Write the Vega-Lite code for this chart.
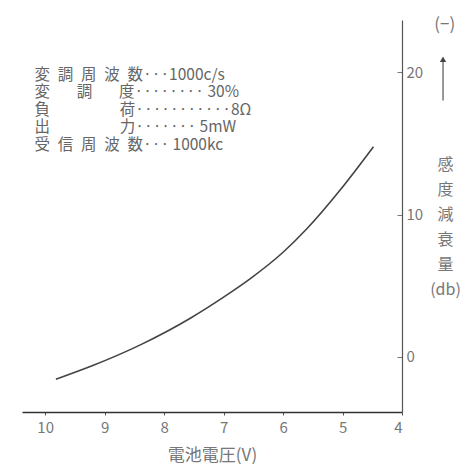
{
  "$schema": "https://vega.github.io/schema/vega-lite/v6.json",
  "width": 380,
  "height": 392,
  "autosize": {"type": "none"},
  "padding": {"left": 22, "top": 20, "right": 69, "bottom": 64},
  "background": "white",
  "config": {
    "view": {"stroke": null},
    "font": "Noto Sans CJK JP",
    "axis": {"grid": false, "labelFont": "Noto Sans CJK JP", "titleFont": "Noto Sans CJK JP"}
  },
  "datasets": {
    "curve": [
      {"voltage": 9.82, "loss": -1.56},
      {"voltage": 9.2, "loss": -0.6},
      {"voltage": 8.4, "loss": 0.85},
      {"voltage": 7.56, "loss": 2.72},
      {"voltage": 7.0, "loss": 4.2},
      {"voltage": 6.55, "loss": 5.5},
      {"voltage": 6.0, "loss": 7.35},
      {"voltage": 5.6, "loss": 9.0},
      {"voltage": 5.04, "loss": 11.72},
      {"voltage": 4.48, "loss": 14.76}
    ],
    "notes": [
      {"note": [
        "変\u2002調\u2002周\u2002波\u2002数···1000c/s",
        "変\u2002\u2002\u2002 調\u2002\u2002\u2002 度········ 30%",
        "負\u2002\u2002\u2002\u2002\u2002\u2002\u2002\u2002\u2002荷···········8Ω",
        "出\u2002\u2002\u2002\u2002\u2002\u2002\u2002\u2002\u2002力······· 5mW",
        "受\u2002信\u2002周\u2002波\u2002数··· 1000kc"
      ]}
    ],
    "sign": [{"label": "(−)"}]
  },
  "layer": [
    {
      "data": {"name": "curve"},
      "mark": {"type": "line", "interpolate": "monotone", "color": "#444", "strokeWidth": 1.6},
      "encoding": {
        "x": {
          "field": "voltage", "type": "quantitative",
          "scale": {"domain": [4, 10.39], "reverse": true, "nice": false, "zero": false},
          "axis": {
            "values": [10, 9, 8, 7, 6, 5, 4],
            "format": "d",
            "title": "電池電圧(V)",
            "titleFontSize": 17, "titleFontWeight": "normal", "titleColor": "#777",
            "titlePadding": 12,
            "labelFontSize": 15, "labelColor": "#777", "labelPadding": 5,
            "domainColor": "#333", "domainWidth": 1.5,
            "tickSize": 3, "tickColor": "#555"
          }
        },
        "y": {
          "field": "loss", "type": "quantitative",
          "scale": {"domain": [-3.86, 23.65], "nice": false, "zero": false},
          "axis": {
            "orient": "right",
            "values": [0, 10, 20],
            "labelFontSize": 15, "labelColor": "#777", "labelPadding": 9,
            "tickSize": -5, "tickColor": "#777",
            "domainColor": "#555", "domainWidth": 1.2,
            "title": ["感", "度", "減", "衰", "量", "(db)"],
            "titleAngle": 0, "titleAlign": "center", "titleBaseline": "top",
            "titleX": 43, "titleY": 136,
            "titleFontSize": 16, "titleFontWeight": "normal", "titleColor": "#777",
            "titleLineHeight": 25
          }
        }
      }
    },
    {
      "data": {"name": "notes"},
      "mark": {"type": "text", "align": "left", "baseline": "top", "fontSize": 15.5, "lineHeight": 17.5, "color": "#666", "font": "Noto Sans CJK JP"},
      "encoding": {
        "x": {"datum": 10.18},
        "y": {"datum": 20.3},
        "text": {"field": "note"}
      }
    },
    {
      "data": {"name": "sign"},
      "mark": {"type": "text", "align": "center", "baseline": "middle", "fontSize": 17, "color": "#777"},
      "encoding": {
        "x": {"datum": 3.28},
        "y": {"datum": 23.3},
        "text": {"field": "label"}
      }
    },
    {
      "data": {"name": "sign"},
      "mark": {"type": "rule", "color": "#555", "strokeWidth": 1.2},
      "encoding": {
        "x": {"datum": 3.31},
        "y": {"datum": 18.0},
        "y2": {"datum": 20.8}
      }
    },
    {
      "data": {"name": "sign"},
      "mark": {"type": "point", "shape": "triangle-up", "filled": true, "color": "#444", "size": 40, "opacity": 1},
      "encoding": {
        "x": {"datum": 3.31},
        "y": {"datum": 20.9}
      }
    }
  ]
}
